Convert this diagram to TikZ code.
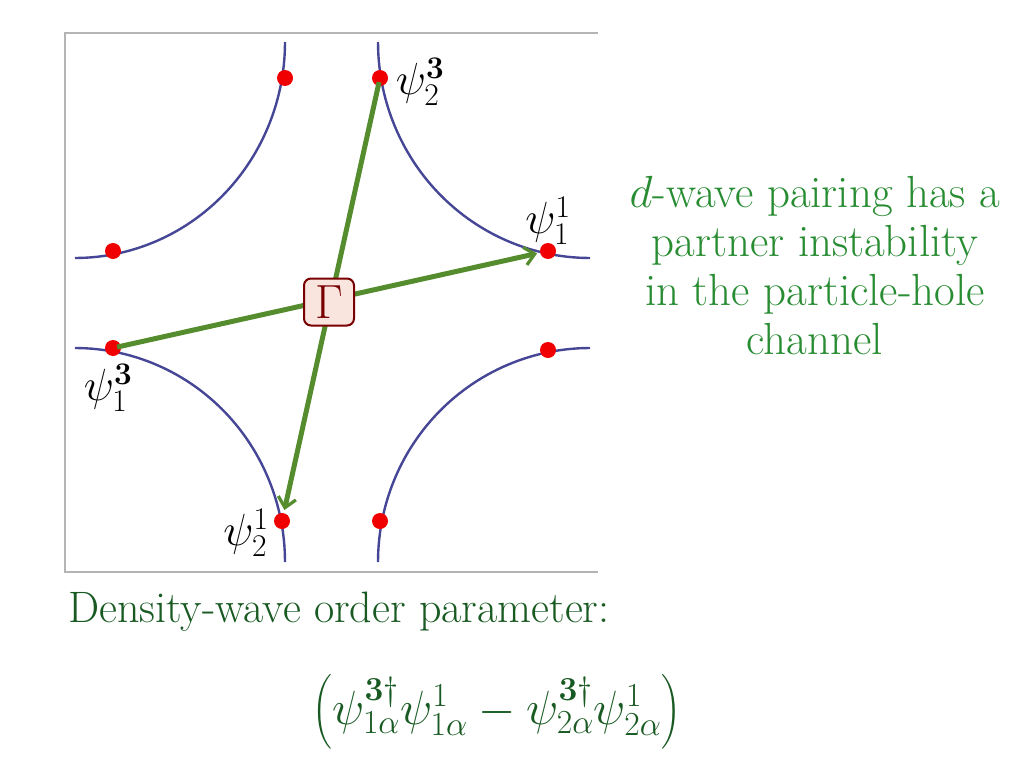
\documentclass[tikz,border=0pt]{standalone}
\usepackage{fix-cm}
\usepackage{amsmath,bm}
\usepackage{fontspec}
\usetikzlibrary{arrows.meta}
\definecolor{fsblue}{RGB}{70,70,150}
\definecolor{dotred}{RGB}{240,0,0}
\definecolor{arrgreen}{RGB}{84,140,46}
\definecolor{txtgreen}{RGB}{40,140,50}
\definecolor{dkgreen}{RGB}{25,90,35}
\definecolor{gamred}{RGB}{120,0,0}
\definecolor{gamfill}{RGB}{250,228,222}
\definecolor{framegray}{RGB}{180,180,180}
\begin{document}
\begin{tikzpicture}[x=1pt,y=-1pt,
  fs/.style={fsblue,line width=2.4pt},
  pdot/.style={circle,fill=dotred,inner sep=0pt,minimum size=16pt},
  arr/.style={arrgreen,line width=5pt,-{Straight Barb[length=10pt,width=18pt,line width=3.2pt]}},
  lbl/.style={inner sep=0pt,font=\fontsize{45}{50}\selectfont},
  gam/.style={draw=gamred,fill=gamfill,line width=2pt,rounded corners=7pt,minimum width=50pt,minimum height=47pt,inner sep=0pt,text=gamred,font=\fontsize{48}{52}\selectfont}]
\useasboundingbox (0,0) rectangle (1024,768);
% frame
\draw[framegray,line width=2.5pt] (598,33) -- (65,33) -- (65,572) -- (598,572);
% Fermi surface arcs
\draw[fs] plot[domain=0:90,samples=60] ({75+210*cos(\x)},{42+216*sin(\x)});
\draw[fs] plot[domain=90:180,samples=60] ({590+212*cos(\x)},{42+216*sin(\x)});
\draw[fs] plot[domain=270:360,samples=60] ({75+210*cos(\x)},{562+214*sin(\x)});
\draw[fs] plot[domain=180:270,samples=60] ({590+212*cos(\x)},{562+214*sin(\x)});
% dots
\node[pdot] (a) at (285,78) {};
\node[pdot] (d23) at (380,78) {};
\node[pdot] (b) at (113,251) {};
\node[pdot] (d11) at (548,251) {};
\node[pdot] (d13) at (113,348) {};
\node[pdot] (c) at (548,350) {};
\node[pdot] (d12) at (282,521) {};
\node[pdot] (e) at (380,521) {};
% arrows
\draw[arr,shorten <=-4pt,shorten >=3pt] (d23) -- (d12);
\draw[arr,shorten <=-4pt,shorten >=3pt] (d13) -- (d11);
\node[gam] (G) at (329,302) {$\Gamma$};
% labels
\node[lbl] (l23) at (420,82) {$\psi_2^{\bm{3}}$};
\node[lbl] (l11) at (548,221) {$\psi_1^1$};
\node[lbl] (l13) at (108,388) {$\psi_1^{\bm{3}}$};
\node[lbl] (l12) at (246,533) {$\psi_2^1$};
% texts
\node[txtgreen,align=center,anchor=north,inner sep=0pt,font=\fontsize{45}{49}\selectfont] (t1) at (815,176)
  {$d$-wave pairing has a\\partner instability\\in the particle-hole\\channel};
\node[dkgreen,anchor=base west,inner sep=0pt,font=\fontsize{44}{50}\selectfont] (t2) at (68,622)
  {Density-wave order parameter:};
\node[dkgreen,inner sep=0pt,font=\fontsize{48}{54}\selectfont] (t3) at (497,712)
  {$\left(\psi^{\bm{3}\dagger}_{1\alpha}\psi^1_{1\alpha}-\psi^{\bm{3}\dagger}_{2\alpha}\psi^1_{2\alpha}\right)$};
\end{tikzpicture}
\end{document}
